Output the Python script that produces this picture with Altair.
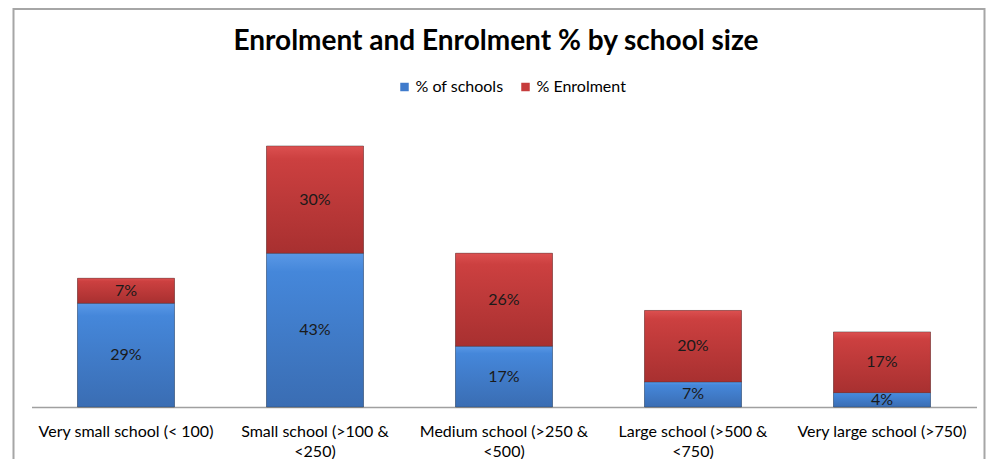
import altair as alt
import pandas as pd

categories = [
    "Very small school (< 100)",
    "Small school (>100 & <250)",
    "Medium school (>250 & <500)",
    "Large school (>500 & <750)",
    "Very large school (>750)",
]
pct_schools = [29, 43, 17, 7, 4]
pct_enrol = [7, 30, 26, 20, 17]
series = ["% of schools", "% Enrolment"]
colors = ["#3f7bcc", "#c63c3c"]
gradients = [
    ["#5a98e6", "#4587da", "#3a6db3"],
    ["#dc5050", "#cc4040", "#a83030"],
]

rows = []
for c, s, e in zip(categories, pct_schools, pct_enrol):
    rows.append(dict(cat=c, series=series[0], value=s, lo=0, hi=s))
    rows.append(dict(cat=c, series=series[1], value=e, lo=s, hi=s + e))
df = pd.DataFrame(rows)
df["mid"] = (df["lo"] + df["hi"]) / 2
df["label"] = df["value"].astype(str) + "%"

W, H = 945, 286
FONT = "Lato"

label_expr = (
    "indexof(datum.label, '&') > 0 ? "
    "[slice(datum.label, 0, indexof(datum.label, '&') + 1), "
    "slice(datum.label, indexof(datum.label, '&') + 2)] : datum.label"
)

x = alt.X(
    "cat:N",
    sort=categories,
    title=None,
    scale=alt.Scale(paddingInner=0.487, paddingOuter=0.2435),
    axis=alt.Axis(
        labelAngle=0,
        ticks=False,
        domainColor="#a0a0a0",
        domainWidth=1.5,
        labelFont=FONT,
        labelFontSize=16,
        labelColor="#000000",
        labelPadding=16,
        labelLimit=400,
        labelExpr=label_expr,
        labelLineHeight=20,
    ),
)
y = alt.Y("lo:Q", scale=alt.Scale(domain=[0, 80]), axis=None)

base = alt.Chart(df)

bars = base.mark_bar(stroke="#2a2a2a", strokeOpacity=0.25, strokeWidth=1).encode(
    x=x,
    y=y,
    y2="hi:Q",
    color=alt.Color(
        "series:N",
        scale=alt.Scale(domain=series, range=colors),
        legend=alt.Legend(
            orient="none",
            legendX=365,
            legendY=-42,
            direction="horizontal",
            title=None,
            symbolType="square",
            symbolSize=72,
            symbolStrokeWidth=0,
            labelFont=FONT,
            labelFontSize=16,
            labelColor="#000000",
            columnPadding=14,
            labelOffset=3,
        ),
    ),
)

overlays = []
for name, stops in zip(series, gradients):
    grad = alt.LinearGradient(
        gradient="linear",
        x1=0, y1=0, x2=0, y2=1,
        stops=[
            alt.GradientStop(color=stops[0], offset=0),
            alt.GradientStop(color=stops[1], offset=0.12),
            alt.GradientStop(color=stops[2], offset=1),
        ],
    )
    overlays.append(
        base.transform_filter(alt.datum.series == name)
        .mark_bar(color=grad, stroke="#2a2a2a", strokeOpacity=0.25, strokeWidth=1)
        .encode(x=x, y=y, y2="hi:Q")
    )

texts = base.mark_text(font=FONT, fontSize=16, color="#1a1a1a").encode(
    x=x,
    y=alt.Y("mid:Q", scale=alt.Scale(domain=[0, 80]), axis=None),
    text="label:N",
)

frame = alt.Chart(alt.Data(values=[{"a": 1}])).mark_rect(
    fillOpacity=0, stroke="#a6a6a6", strokeWidth=2
).encode(
    x=alt.value(-18),
    x2=alt.value(953),
    y=alt.value(-112),
    y2=alt.value(370),
)

chart = alt.layer(frame, bars, *overlays, texts).properties(
    width=W,
    height=H,
    title=alt.TitleParams(
        "Enrolment and Enrolment % by school size",
        font=FONT,
        fontSize=28,
        fontWeight="bold",
        color="#000000",
        anchor="middle",
        offset=-48,
        dx=-8,
    ),
    autosize=alt.AutoSizeParams(type="none"),
    padding={"left": 23.5, "top": 113, "right": 9, "bottom": 52},
).configure(background="white").configure_view(stroke="transparent", strokeWidth=0)

chart.save("out.html", embed_options={"renderer": "svg", "actions": False})
